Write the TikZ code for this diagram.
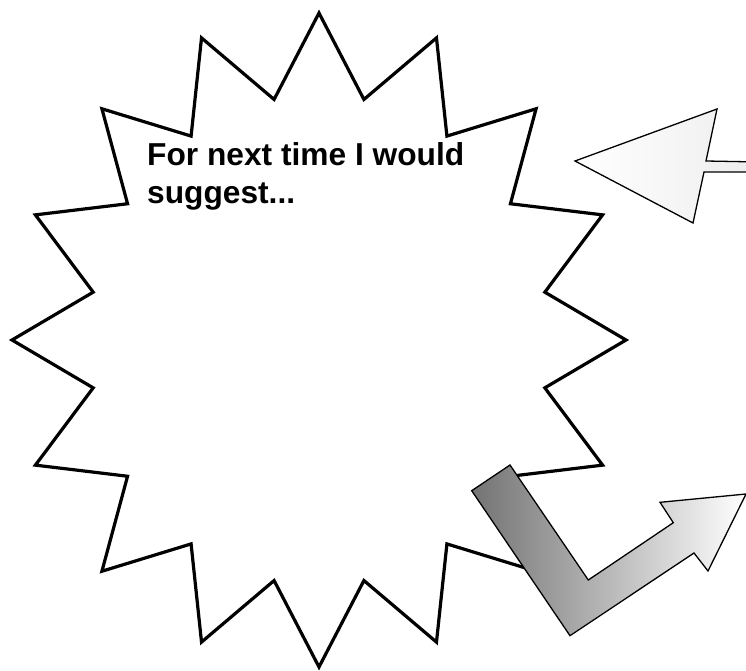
\documentclass[tikz,border=0pt]{standalone}
\usepackage{fontspec}
\setmainfont{Liberation Sans}
\begin{document}
\begin{tikzpicture}[x=1pt,y=-1pt,
  burst/.style={draw=black,line width=3.2pt,fill=white,line join=miter},
  arrowshape/.style={draw=black,line width=1.3pt,line join=miter},
  label/.style={anchor=base west,inner sep=0pt,font=\bfseries\fontsize{31.7}{38}\selectfont}]
\useasboundingbox (0,0) rectangle (746,671);
\clip (0,0) rectangle (746,671);
% starburst
\draw[burst] plot[samples at={0,...,31}]
  ({319+(1-0.25*mod(\x,2))*307*cos(90+\x*11.25)},
   {340-(1-0.25*mod(\x,2))*327*sin(90+\x*11.25)}) -- cycle;
% text
\node[label] (t1) at (147,165) {For next time I would};
\node[label] (t2) at (147,203) {suggest...};
% left pointing arrow (top right)
\draw[arrowshape,left color=white,right color=black!7]
  (575,161) -- (717,109) -- (706,161) -- (760,162) -- (760,172)
  -- (704,172) -- (693,223) -- cycle;
% bent arrow (bottom right)
\draw[arrowshape,left color=black!55,right color=white]
  (471.7,490.7) -- (510,465) -- (588.3,580) -- (673.3,522.7) -- (660,502.3)
  -- (746,494) -- (708,571) -- (694,553) -- (570,635.7) -- cycle;
\end{tikzpicture}
\end{document}
